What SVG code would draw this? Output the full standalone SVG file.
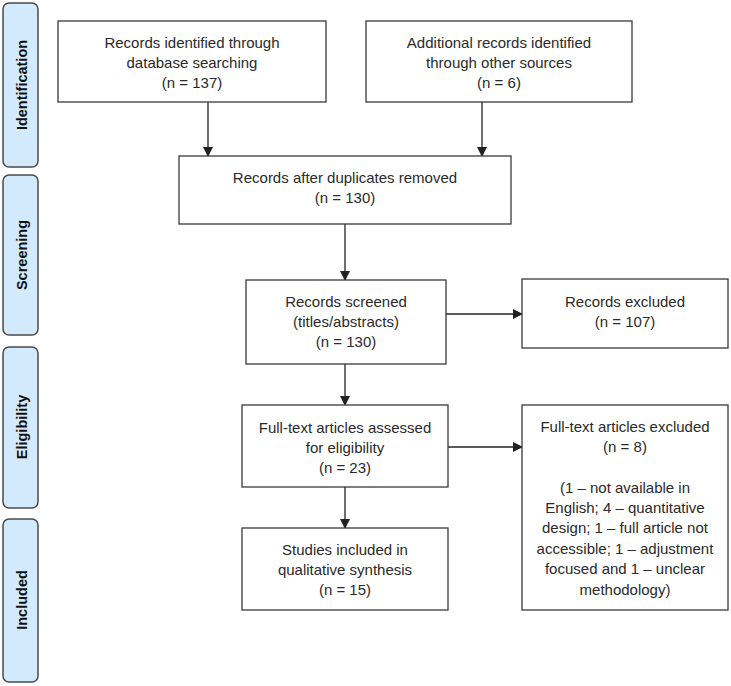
<svg xmlns="http://www.w3.org/2000/svg" width="731" height="686" viewBox="0 0 731 686">
<style>
.side{fill:#d3eafc;stroke:#4a4a4a;stroke-width:1.5}
.box{fill:#fff;stroke:#3a3a3a;stroke-width:1.3}
.t{font-family:"Liberation Sans",Arial,sans-serif;font-size:15px;fill:#2a2a2a;text-anchor:middle}
.s{font-family:"Liberation Sans",Arial,sans-serif;font-size:14.5px;font-weight:bold;fill:#111;text-anchor:middle}
.c{stroke:#222;stroke-width:1.3;fill:none;marker-end:url(#ah)}
</style>
<defs>
<marker id="ah" markerWidth="10" markerHeight="10" refX="9" refY="5" orient="auto" markerUnits="userSpaceOnUse">
<path d="M0,0 L10,5 L0,10 z" fill="#222"/>
</marker>
</defs>
<rect width="731" height="686" fill="#fff"/>
<g id="stage-identification"><rect class="side" x="3" y="3" width="35" height="164" rx="6"/><text class="s" transform="translate(26.5,85) rotate(-90)">Identification</text></g>
<g id="stage-screening"><rect class="side" x="3" y="175" width="35" height="160" rx="6"/><text class="s" transform="translate(26.5,255) rotate(-90)">Screening</text></g>
<g id="stage-eligibility"><rect class="side" x="3" y="347" width="35" height="161" rx="6"/><text class="s" transform="translate(26.5,427) rotate(-90)">Eligibility</text></g>
<g id="stage-included"><rect class="side" x="3" y="519" width="35" height="163" rx="6"/><text class="s" transform="translate(26.5,600) rotate(-90)">Included</text></g>
<g id="connectors">
<line class="c" x1="208" y1="102" x2="208" y2="156"/>
<line class="c" x1="482" y1="102" x2="482" y2="156"/>
<line class="c" x1="345" y1="224" x2="345" y2="280"/>
<line class="c" x1="446" y1="314" x2="522" y2="314"/>
<line class="c" x1="345" y1="364" x2="345" y2="405"/>
<line class="c" x1="448" y1="447" x2="522" y2="447"/>
<line class="c" x1="345" y1="487" x2="345" y2="528"/>
</g>
<g id="n-database"><rect class="box" x="58" y="21" width="268" height="81"/>
<text class="t" x="192" y="48">Records identified through</text>
<text class="t" x="192" y="68">database searching</text>
<text class="t" x="192" y="88">(n = 137)</text></g>
<g id="n-other"><rect class="box" x="366" y="21" width="266" height="81"/>
<text class="t" x="499" y="48">Additional records identified</text>
<text class="t" x="499" y="68">through other sources</text>
<text class="t" x="499" y="88">(n = 6)</text></g>
<g id="n-duplicates"><rect class="box" x="179" y="156" width="332" height="68"/>
<text class="t" x="345" y="183">Records after duplicates removed</text>
<text class="t" x="345" y="203">(n = 130)</text></g>
<g id="n-screened"><rect class="box" x="246" y="280" width="200" height="84"/>
<text class="t" x="346" y="307">Records screened</text>
<text class="t" x="346" y="327">(titles/abstracts)</text>
<text class="t" x="346" y="347">(n = 130)</text></g>
<g id="n-excluded"><rect class="box" x="522" y="279" width="206" height="69"/>
<text class="t" x="625" y="307">Records excluded</text>
<text class="t" x="625" y="327">(n = 107)</text></g>
<g id="n-fulltext"><rect class="box" x="242" y="405" width="206" height="82"/>
<text class="t" x="345" y="433">Full-text articles assessed</text>
<text class="t" x="345" y="453">for eligibility</text>
<text class="t" x="345" y="473">(n = 23)</text></g>
<g id="n-fulltext-excluded"><rect class="box" x="522" y="405" width="206" height="205"/>
<text class="t" x="625" y="432">Full-text articles excluded</text>
<text class="t" x="625" y="452">(n = 8)</text>
<text class="t" x="625" y="493">(1 – not available in</text>
<text class="t" x="625" y="513">English; 4 – quantitative</text>
<text class="t" x="625" y="533">design; 1 – full article not</text>
<text class="t" x="625" y="554">accessible; 1 – adjustment</text>
<text class="t" x="625" y="574">focused and 1 – unclear</text>
<text class="t" x="625" y="595">methodology)</text></g>
<g id="n-included"><rect class="box" x="242" y="528" width="206" height="82"/>
<text class="t" x="345" y="555">Studies included in</text>
<text class="t" x="345" y="575">qualitative synthesis</text>
<text class="t" x="345" y="595">(n = 15)</text></g>
</svg>
